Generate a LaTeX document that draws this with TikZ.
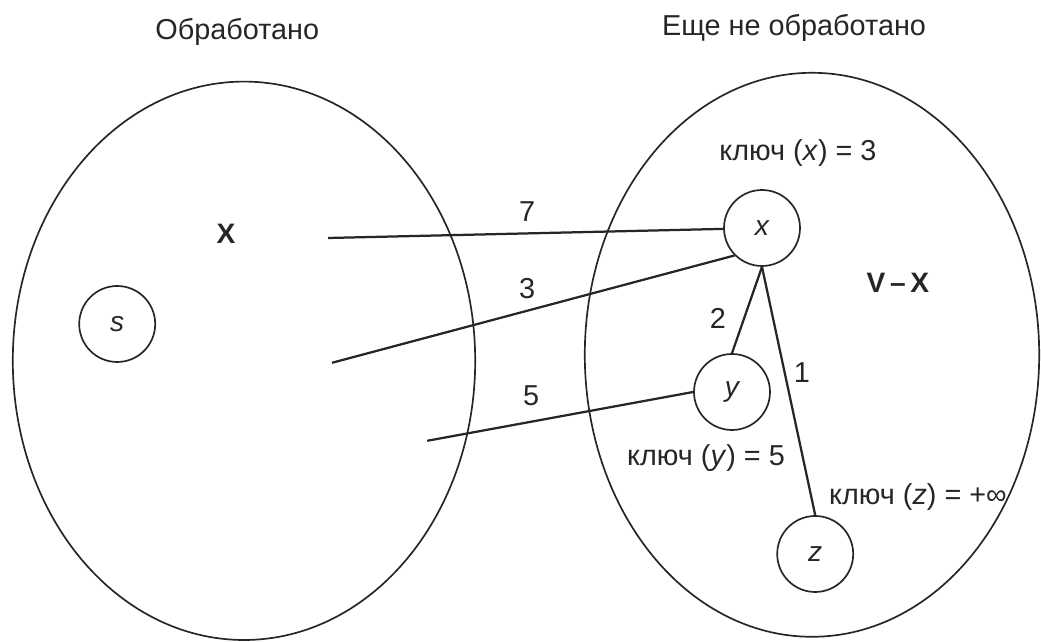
\documentclass[tikz,border=0pt]{standalone}
\usepackage{fontspec}
\setmainfont{Liberation Sans}
\definecolor{tinta}{HTML}{262626}
\tikzset{
  vertice/.style={circle,draw=tinta,line width=1.2pt,minimum size=1.9cm,inner sep=0pt,text=tinta,font=\fontsize{20}{22}\selectfont\itshape},
  conjunto/.style={draw=tinta,line width=1.2pt},
  arista/.style={draw=tinta,line width=1.6pt},
  etiqueta/.style={font=\fontsize{20.5}{22}\selectfont,text=tinta,inner sep=1pt},
  titulo/.style={etiqueta,font=\fontsize{20.5}{22}\selectfont},
  rotulo/.style={etiqueta,font=\fontsize{20}{22}\selectfont\bfseries},
}

\begin{document}
\begin{tikzpicture}
  \useasboundingbox (0,0) rectangle (26.025,16.05);
  % los dos conjuntos
  \draw[conjunto] (6.10,7.03) ellipse [x radius=5.78, y radius=6.98];
  \draw[conjunto] (20.30,7.18) ellipse [x radius=5.68, y radius=7.05];
  \node[titulo] (hecho) at (5.93,15.25) {Обработано};
  \node[titulo] (resto) at (19.85,15.35) {Еще не обработано};
  \node[rotulo] (cx) at (5.65,10.20) {X};
  \node[rotulo] (cvx) at (22.45,8.98) {V\,–\,X};
  % vertices
  \node[vertice] (s) at (2.93,7.95) {s};
  \node[vertice] (x) at (19.05,10.35) {x};
  \node[vertice] (y) at (18.30,6.25) {y};
  \node[vertice] (z) at (20.38,2.20) {z};
  \coordinate (a7) at (8.20,10.10);
  \coordinate (a3) at (8.30,6.98);
  \coordinate (a5) at (10.68,5.03);
  % aristas
  \draw[arista] (a7) -- (x);
  \draw[arista] (a3) -- (x.225);
  \draw[arista] (a5) -- (y.west);
  \draw[arista] (x.south) -- (y.north);
  \draw[arista] (x.south) -- (z.north);
  \node[etiqueta] (p7) at (13.18,10.75) {7};
  \node[etiqueta] (p3) at (13.18,8.83) {3};
  \node[etiqueta] (p5) at (13.28,6.15) {5};
  \node[etiqueta] (p2) at (17.95,8.10) {2};
  \node[etiqueta] (p1) at (20.05,6.73) {1};
  % claves
  \node[etiqueta] (kx) at (19.95,12.23) {ключ (\textit{x}) = 3};
  \node[etiqueta] (ky) at (17.65,4.60) {ключ (\textit{y}) = 5};
  \node[etiqueta] (kz) at (22.95,3.63) {ключ (\textit{z}) = +∞};
\end{tikzpicture}
\end{document}
